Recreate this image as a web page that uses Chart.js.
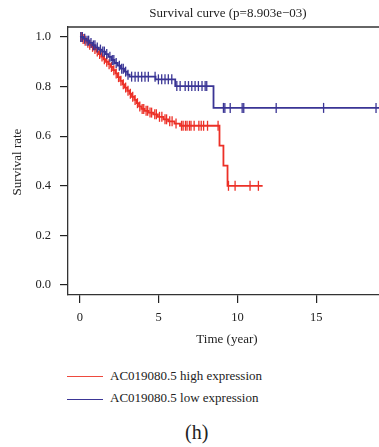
<!DOCTYPE html>
<html>
<head>
<meta charset="utf-8">
<script src="https://cdn.jsdelivr.net/npm/chart.js@4.4.0/dist/chart.umd.min.js"></script>
<style>
  html, body { margin:0; padding:0; background:#fff; overflow:hidden; }
  #wrap { position:relative; width:379px; height:447px; overflow:hidden; background:#fff; }
  #cv { position:absolute; left:0; top:0; }
  .lg { position:absolute; font-family:"Liberation Serif", serif; font-size:13px; line-height:14px; color:#222; white-space:nowrap; }
  .ln { position:absolute; height:0; }
</style>
</head>
<body>
<div id="wrap">
  <canvas id="cv" width="400" height="360" style="width:400px;height:360px"></canvas>
  <div class="ln" style="left:67px;top:376px;width:36px;border-top:1.5px solid #ee4a3e;"></div>
  <div class="lg" style="left:110px;top:369px;">AC019080.5 high expression</div>
  <div class="ln" style="left:67px;top:399px;width:36px;border-top:1.5px solid #3b3696;"></div>
  <div class="lg" style="left:110px;top:391px;">AC019080.5 low expression</div>
  <div class="lg" style="left:185px;top:421px;font-size:20px;line-height:22px;">(h)</div>
</div>
<script>
// ---- data ----
const titleText = "Survival curve (p=8.903e\u221203)";
const xLabel = "Time (year)";
const yLabel = "Survival rate";
const seriesNames = ["AC019080.5 high expression", "AC019080.5 low expression"];
const xTickVals = [0, 5, 10, 15];
const yTickVals = [0, 0.2, 0.4, 0.6, 0.8, 1.0];

// high expression (red): event times and survival after each event
const highTimes = [0, 0.15, 0.3, 0.45, 0.6, 0.75, 0.9, 1.05, 1.2, 1.35, 1.5, 1.65, 1.8, 1.95, 2.1, 2.25, 2.4, 2.55, 2.7, 2.85, 3.0, 3.15, 3.3, 3.45, 3.6, 3.75, 3.9, 4.1, 4.35, 4.65, 4.95, 5.3, 5.6, 6.0, 6.35, 8.86, 9.11, 9.37, 11.6];
const highSurv  = [1.0, 0.992, 0.985, 0.977, 0.968, 0.96, 0.951, 0.941, 0.931, 0.921, 0.91, 0.9, 0.89, 0.879, 0.866, 0.853, 0.838, 0.823, 0.809, 0.796, 0.783, 0.771, 0.759, 0.746, 0.733, 0.72, 0.71, 0.702, 0.695, 0.688, 0.678, 0.668, 0.66, 0.651, 0.642, 0.562, 0.481, 0.40, 0.40];
const highCensor = [0.08, 0.2, 0.33, 0.5, 0.62, 0.8, 0.95, 1.1, 1.25, 1.4, 1.55, 1.7, 1.85, 2.0, 2.15, 2.3, 2.45, 2.6, 2.75, 2.9, 3.05, 3.2, 3.35, 3.5, 3.65, 3.8, 3.95, 4.05, 4.2, 4.3, 4.45, 4.55, 4.75, 4.85, 5.05, 5.2, 5.4, 5.5, 5.7, 5.85, 6.1, 6.45, 6.55, 6.7, 6.8, 6.95, 7.05, 7.25, 7.55, 7.7, 7.85, 8.1, 8.77, 9.43, 9.85, 10.8, 11.33];

// low expression (blue)
const lowTimes = [0, 0.2, 0.4, 0.6, 0.8, 1.0, 1.2, 1.4, 1.6, 1.8, 2.0, 2.2, 2.4, 2.6, 2.8, 3.0, 3.15, 4.8, 6.05, 8.48, 19.5];
const lowSurv  = [1.0, 0.993, 0.985, 0.976, 0.966, 0.957, 0.949, 0.941, 0.931, 0.92, 0.907, 0.895, 0.884, 0.872, 0.86, 0.848, 0.84, 0.829, 0.802, 0.714, 0.714];
const lowCensor = [0.05, 0.15, 0.3, 0.45, 0.55, 0.7, 0.85, 0.95, 1.1, 1.3, 1.45, 1.55, 1.7, 1.9, 2.05, 2.15, 2.3, 2.5, 2.65, 2.75, 2.9, 3.05, 3.28, 3.5, 3.7, 3.92, 4.13, 4.34, 4.77, 4.98, 5.19, 5.4, 5.61, 5.83, 6.15, 6.36, 6.68, 6.89, 7.1, 7.31, 7.52, 7.75, 7.95, 8.05, 9.11, 9.2, 9.54, 10.3, 10.4, 12.46, 15.47, 18.8];

const redCol = "#ec3027";
const blueCol = "#3a3595";
const FONT = "'Liberation Serif', serif";

function curve(times, surv) { return times.map((t, i) => ({ x: t, y: surv[i] })); }
function survAt(times, surv, t) {
  let s = surv[0];
  for (let i = 0; i < times.length; i++) { if (times[i] <= t) s = surv[i]; }
  return s;
}
function censorPts(times, surv, cens) { return cens.map(t => ({ x: t, y: survAt(times, surv, t) })); }

const textPlugin = {
  id: 'textPlugin',
  afterDraw(chart) {
    const ctx = chart.ctx, a = chart.chartArea;
    ctx.save();
    // top box line
    ctx.strokeStyle = '#333'; ctx.lineWidth = 1.3;
    ctx.beginPath(); ctx.moveTo(a.left, a.top); ctx.lineTo(a.right, a.top); ctx.stroke();
    ctx.fillStyle = '#222';
    ctx.textAlign = 'center'; ctx.textBaseline = 'middle';
    ctx.font = "13px " + FONT;
    const cx = (a.left + a.right) / 2;
    ctx.fillText(titleText, cx, 14);
    ctx.fillText(xLabel, cx - 1, 340);
    ctx.translate(18, (a.top + a.bottom) / 2 + 1);
    ctx.rotate(-Math.PI / 2);
    ctx.fillText(yLabel, 0, 0);
    ctx.restore();
  }
};

new Chart(document.getElementById('cv'), {
  type: 'scatter',
  data: {
    datasets: [
      { label: seriesNames[1], data: curve(lowTimes, lowSurv), showLine: true, stepped: 'before',
        borderColor: blueCol, borderWidth: 1.8, pointRadius: 0, order: 1 },
      { label: seriesNames[1] + ' censored', data: censorPts(lowTimes, lowSurv, lowCensor), showLine: false,
        pointStyle: 'line', rotation: 90, pointRadius: 5, borderColor: blueCol, pointBorderWidth: 1.3, order: 0 },
      { label: seriesNames[0], data: curve(highTimes, highSurv), showLine: true, stepped: 'before',
        borderColor: redCol, borderWidth: 1.8, pointRadius: 0, order: 3 },
      { label: seriesNames[0] + ' censored', data: censorPts(highTimes, highSurv, highCensor), showLine: false,
        pointStyle: 'line', rotation: 90, pointRadius: 5, borderColor: redCol, pointBorderWidth: 1.3, order: 2 }
    ]
  },
  options: {
    responsive: false,
    animation: false,
    layout: { padding: { top: 27, right: 12, left: 0, bottom: 0 } },
    plugins: { legend: { display: false }, tooltip: { enabled: false }, title: { display: false } },
    scales: {
      x: {
        type: 'linear', min: -0.76, max: 19.56,
        afterBuildTicks: s => { s.ticks = xTickVals.map(v => ({ value: v })); },
        afterFit: s => { s.height = 65; },
        grid: { drawOnChartArea: false, drawTicks: true, tickLength: 8, color: '#222', lineWidth: 1.2 },
        border: { display: true, color: '#333', width: 1.3 },
        ticks: { color: '#222', font: { family: FONT, size: 12.5 }, padding: 7, maxRotation: 0, autoSkip: false,
                 callback: v => String(v) }
      },
      y: {
        type: 'linear', min: -0.04, max: 1.04,
        afterBuildTicks: s => { s.ticks = yTickVals.map(v => ({ value: v })); },
        afterFit: s => { s.width = 68; },
        grid: { drawOnChartArea: false, drawTicks: true, tickLength: 8, color: '#222', lineWidth: 1.2 },
        border: { display: true, color: '#333', width: 1.3 },
        ticks: { color: '#222', font: { family: FONT, size: 12.5 }, padding: 9, autoSkip: false,
                 callback: v => Number(v).toFixed(1) }
      }
    }
  },
  plugins: [textPlugin]
});
</script>
</body>
</html>
